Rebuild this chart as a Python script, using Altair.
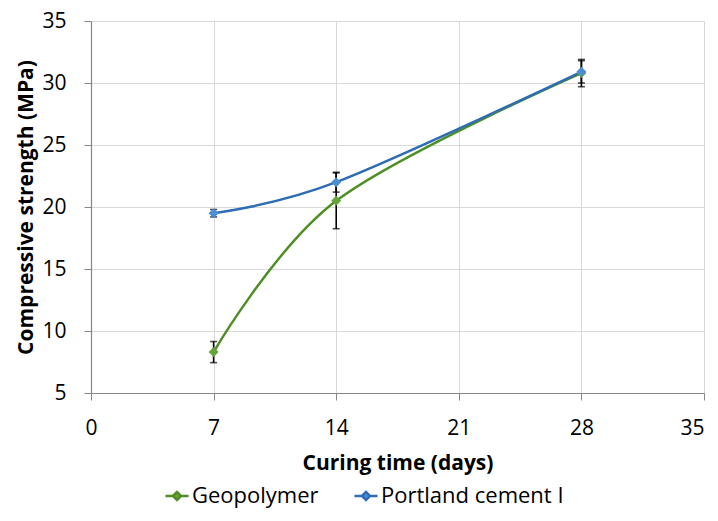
import altair as alt
import pandas as pd

days = [7, 14, 28]
series = ["Geopolymer", "Portland cement I"]
geo_strength = [8.3, 20.5, 30.8]
geo_err = [0.85, 2.25, 1.1]
pc_strength = [19.5, 22.0, 30.9]
pc_err = [0.3, 0.8, 0.9]
x_ticks = [0, 7, 14, 21, 28, 35]
y_ticks = [5, 10, 15, 20, 25, 30, 35]
line_colors = ["#4e8f23", "#2e6db3"]
marker_colors = ["#64a43a", "#4a8fd2"]

rows = []
for s, vals, errs in [(series[0], geo_strength, geo_err), (series[1], pc_strength, pc_err)]:
    for d, v, e in zip(days, vals, errs):
        rows.append({"series": s, "day": d, "strength": v, "lo": v - e, "hi": v + e})
df = pd.DataFrame(rows)

FONT = "Open Sans"
YT = "Compressive strength (MPa)"
XT = "Curing time (days)"

xscale = alt.Scale(domain=[0, 35], nice=False)
yscale = alt.Scale(domain=[5, 35], nice=False, zero=False)
xaxis = alt.Axis(values=x_ticks, grid=True, labelFlush=False, labelPadding=17, titlePadding=14,
                 labelAlign=alt.ExprRef(expr="datum.value == 35 ? 'right' : 'center'"))
yaxis = alt.Axis(values=y_ticks, grid=True, labelFlush=False, labelPadding=18, titlePadding=5)

xenc = alt.X("day:Q", title=XT, scale=xscale, axis=xaxis)


def yq(field):
    return alt.Y(field, title=YT, scale=yscale, axis=yaxis)


legend_path = "M-1,0H-0.35M0.35,0H1M-0.35,0L0,-0.35L0.35,0L0,0.35Z"

leg = alt.Legend(title=None, orient="none", legendX=73, legendY=462, direction="horizontal",
                 symbolType=legend_path, symbolSize=530, symbolStrokeWidth=2.5,
                 labelFont=FONT, labelFontSize=22, labelColor="#000000", labelLimit=400,
                 labelOffset=2, columnPadding=30, padding=0)

base = alt.Chart(df)

err_rule = base.mark_rule(color="#000000", strokeWidth=1.6).encode(
    x=xenc, y=yq("lo:Q"), y2="hi:Q")

err_ticks = base.transform_fold(["lo", "hi"], as_=["k", "v"]).mark_tick(
    color="#000000", orient="horizontal", size=7, thickness=1.6).encode(
    x=xenc, y=yq("v:Q"))

lines = base.mark_line(interpolate="cardinal", strokeWidth=2.5).encode(
    x=xenc, y=yq("strength:Q"),
    color=alt.Color("series:N", scale=alt.Scale(domain=series, range=line_colors), legend=leg))

points = base.mark_point(shape="diamond", filled=True, size=100, opacity=1).encode(
    x=xenc, y=yq("strength:Q"),
    fill=alt.Fill("series:N", scale=alt.Scale(domain=series, range=marker_colors), legend=leg))

chart = alt.layer(err_rule, err_ticks, lines, points).properties(
    width=613, height=372,
    autosize=alt.AutoSizeParams(type="none"),
    padding={"left": 83, "top": 13, "right": 6, "bottom": 118},
).configure_view(stroke=None).configure_axis(
    labelFont=FONT, labelFontSize=21, labelColor="#000000",
    titleFont=FONT, titleFontSize=21, titleFontWeight="bold", titleColor="#000000",
    gridColor="#d9d9d9", gridWidth=1, domainColor="#868686", domainWidth=1.2,
    tickColor="#868686", tickSize=7, tickWidth=1,
)

chart.save("out.html", embed_options={"renderer": "svg", "actions": False})
